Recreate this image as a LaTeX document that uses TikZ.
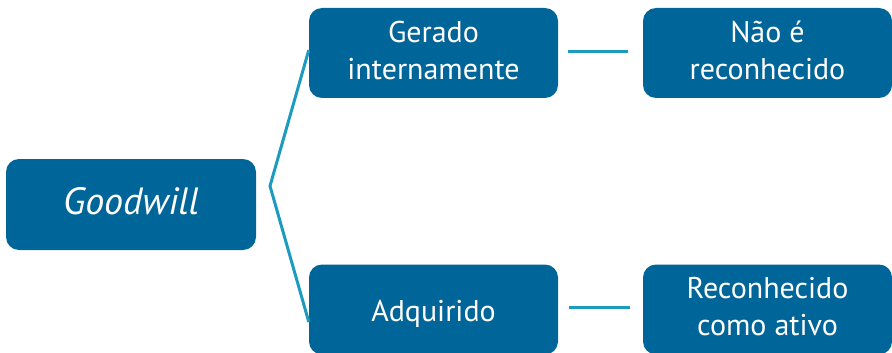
\documentclass[tikz,border=0pt]{standalone}
\usepackage{fontspec}
\setmainfont{PT Sans}
\definecolor{boxblue}{HTML}{006598}
\definecolor{linkteal}{HTML}{1D9BBE}
\newcommand{\boxtext}[2]{\raisebox{#1}[0pt][0pt]{\begin{tabular}{@{}c@{}}#2\end{tabular}}}
\begin{document}
\begin{tikzpicture}[x=1pt,y=-1pt,
  boxnode/.style={fill=boxblue,draw=none,rounded corners=13pt,text=white,
    minimum width=249pt,minimum height=90pt,align=center,
    font=\fontsize{30}{37}\selectfont,inner sep=0pt},
  link/.style={linkteal,line width=3pt}]
\useasboundingbox (0,0) rectangle (892,353);
\node[boxnode,minimum width=250pt,minimum height=91pt,font=\fontsize{38}{40}\selectfont] (good) at (131,204.5) {\boxtext{-8.5pt}{\itshape Goodwill}};
\node[boxnode] (ger) at (433.5,53) {\boxtext{-6.6pt}{Gerado\\internamente}};
\node[boxnode] (adq) at (433.5,309.5) {\boxtext{-10.8pt}{Adquirido}};
\node[boxnode] (nao) at (767.5,53) {\boxtext{-6.6pt}{Não é\\reconhecido}};
\node[boxnode] (rec) at (767.5,309.5) {\boxtext{-6.1pt}{Reconhecido\\como ativo}};
\coordinate (apex) at (270,186);
\draw[link] (ger.west |- 0,50) -- (apex) -- (adq.west |- 0,322);
\draw[link] ([xshift=10pt]ger.east |- 0,52) -- ([xshift=-15pt]nao.west |- 0,52);
\draw[link] ([xshift=11pt]adq.east |- 0,307) -- ([xshift=-13pt]rec.west |- 0,307);
\end{tikzpicture}
\end{document}
